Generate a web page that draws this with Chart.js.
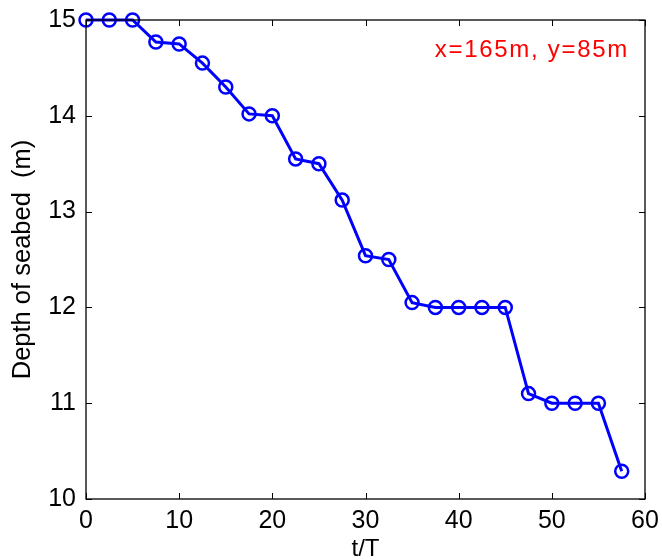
<!DOCTYPE html>
<html>
<head>
<meta charset="utf-8">
<script src="https://cdn.jsdelivr.net/npm/chart.js@4"></script>
<style>
html,body{margin:0;padding:0;background:#fff;}
#wrap{width:662px;height:560px;position:relative;}
</style>
</head>
<body>
<div id="wrap"><canvas id="c" width="662" height="560"></canvas></div>
<script>
const tValues = [0, 2.5, 5, 7.5, 10, 12.5, 15, 17.5, 20, 22.5, 25, 27.5, 30, 32.5, 35, 37.5, 40, 42.5, 45, 47.5, 50, 52.5, 55, 57.5];
const depthValues = [15, 15, 15, 14.77, 14.75, 14.55, 14.30, 14.02, 14.00, 13.55, 13.50, 13.12, 12.54, 12.50, 12.05, 12.00, 12.00, 12.00, 12.00, 11.10, 11.00, 11.00, 11.00, 10.29];
const xTicks = [0, 10, 20, 30, 40, 50, 60];
const yTicks = [10, 11, 12, 13, 14, 15];
const xTitle = 't/T';
const yTitle = 'Depth of seabed  (m)';
const annotationText = 'x=165m, y=85m';

const FONT = "'Liberation Sans', Arial, sans-serif";

const frame = {
  id: 'frame',
  afterDraw(chart) {
    const {ctx, chartArea: a, scales} = chart;
    ctx.save();
    ctx.strokeStyle = '#000';
    ctx.lineWidth = 1.3;
    ctx.strokeRect(a.left, a.top, a.right - a.left, a.bottom - a.top);
    const L = 6;
    ctx.lineWidth = 1;
    ctx.beginPath();
    xTicks.forEach(v => {
      const x = Math.round(scales.x.getPixelForValue(v)) + 0.5;
      ctx.moveTo(x, a.bottom); ctx.lineTo(x, a.bottom - L);
      ctx.moveTo(x, a.top); ctx.lineTo(x, a.top + L);
    });
    yTicks.forEach(v => {
      const y = Math.round(scales.y.getPixelForValue(v)) + 0.5;
      ctx.moveTo(a.left, y); ctx.lineTo(a.left + L, y);
      ctx.moveTo(a.right, y); ctx.lineTo(a.right - L, y);
    });
    ctx.stroke();
    ctx.fillStyle = '#ff0000';
    ctx.font = "24px " + FONT;
    ctx.letterSpacing = '1.7px';
    ctx.textAlign = 'right';
    ctx.textBaseline = 'alphabetic';
    ctx.fillText(annotationText, a.right - 16, a.top + 37);
    ctx.restore();
  }
};

new Chart(document.getElementById('c'), {
  type: 'line',
  data: {
    datasets: [{
      data: tValues.map((t, i) => ({x: t, y: depthValues[i]})),
      borderColor: '#0000ff',
      borderWidth: 3,
      pointStyle: 'circle',
      pointRadius: 6.5,
      pointBorderWidth: 2.5,
      pointBorderColor: '#0000ff',
      pointBackgroundColor: 'rgba(0,0,0,0)',
      tension: 0,
      clip: false
    }]
  },
  options: {
    responsive: false,
    animation: false,
    events: [],
    layout: {padding: {top: 20, right: 17, left: 0, bottom: 0}},
    plugins: {legend: {display: false}, tooltip: {enabled: false}},
    scales: {
      x: {
        type: 'linear', min: 0, max: 60,
        afterBuildTicks: s => { s.ticks = xTicks.map(v => ({value: v})); },
        afterFit: s => { s.height = 61; s.paddingLeft = 0; s.paddingRight = 0; },
        grid: {display: false, drawTicks: false},
        border: {display: false},
        ticks: {color: '#000', font: {family: FONT, size: 25}, padding: 7, maxRotation: 0, autoSkip: false},
        title: {display: true, text: xTitle, color: '#000', font: {family: FONT, size: 24, lineHeight: 0.9}, padding: {top: 0, bottom: 0}}
      },
      y: {
        type: 'linear', min: 10, max: 15,
        afterBuildTicks: s => { s.ticks = yTicks.map(v => ({value: v})); },
        afterFit: s => { s.width = 86; s.paddingTop = 0; s.paddingBottom = 0; },
        grid: {display: false, drawTicks: false},
        border: {display: false},
        ticks: {color: '#000', font: {family: FONT, size: 25}, padding: 10, autoSkip: false},
        title: {display: true, text: yTitle, color: '#000', font: {family: FONT, size: 25.5}, padding: {top: 8, bottom: 0}}
      }
    }
  },
  plugins: [frame]
});
</script>
</body>
</html>
